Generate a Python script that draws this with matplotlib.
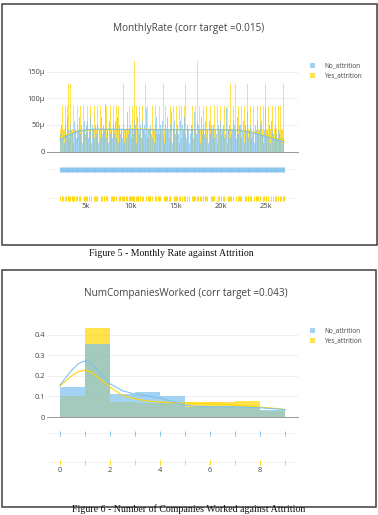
import numpy as np
import matplotlib
matplotlib.use('Agg')
import matplotlib.pyplot as plt
from matplotlib.patches import Rectangle

plt.rcParams['font.family'] = ['Open Sans', 'DejaVu Sans']

W, H = 378, 515
DPI = 72

BLU = '#7EC0EE'
YEL = '#FFD700'
TXT = '#444444'

# ---------------- data: MonthlyRate ----------------
mr_bin_start = 2100
mr_bin_size = 100
mr_no_counts = [
    4, 6, 3, 7, 5, 2, 6, 4, 8, 5,
    3, 6, 5, 9, 4, 2, 7, 5, 3, 6,
    5, 8, 4, 3, 6, 2, 5, 7, 4, 6,
    7, 3, 5, 4, 8, 2, 6, 5, 3, 6,
    4, 6, 2, 7, 5, 3, 8, 4, 6, 5,
    11, 3, 5, 6, 2, 7, 4, 5, 3, 6,
    4, 7, 3, 5, 8, 2, 6, 4, 5, 3,
    6, 2, 5, 7, 3, 9, 4, 5, 6, 3,
    5, 4, 7, 3, 6, 2, 8, 5, 4, 6,
    3, 7, 5, 2, 6, 4, 10, 3, 5, 5,
    6, 4, 3, 7, 5, 2, 6, 8, 4, 5,
    4, 6, 5, 3, 7, 4, 2, 6, 5, 8,
    5, 3, 6, 4, 9, 2, 5, 7, 4, 5,
    6, 4, 2, 5, 7, 3, 6, 5, 8, 4,
    3, 6, 5, 7, 2, 4, 6, 5, 3, 9,
    5, 4, 7, 3, 6, 5, 2, 8, 4, 6,
    4, 7, 3, 6, 5, 2, 7, 4, 6, 5,
    6, 3, 5, 8, 4, 2, 6, 5, 7, 4,
    5, 6, 3, 7, 4, 10, 2, 5, 6, 3,
    4, 5, 7, 2, 6, 5, 3, 8, 4, 6,
    6, 3, 5, 4, 7, 2, 6, 5, 9, 3,
    5, 6, 3, 7, 4, 5, 2, 6, 5, 7,
    4, 5, 6, 3, 7, 4, 2, 5, 10, 4,
    5, 3, 6, 4, 2, 7, 5, 4, 3, 6,
    4, 3, 5, 2, 4, 3, 5, 2, 3,
]
mr_yes_counts = [
    1, 0, 2, 1, 0, 1, 2, 0, 2, 3,
    1, 3, 0, 3, 1, 2, 0, 1, 0, 2,
    0, 1, 2, 0, 0, 0, 2, 1, 0, 1,
    2, 0, 1, 0, 2, 0, 0, 1, 2, 0,
    1, 2, 0, 0, 0, 2, 1, 0, 1, 1,
    0, 2, 1, 0, 0, 0, 2, 1, 0, 2,
    1, 0, 2, 0, 0, 2, 1, 0, 1, 0,
    3, 1, 0, 2, 1, 0, 1, 2, 0, 1,
    2, 1, 4, 0, 1, 2, 1, 0, 2, 1,
    0, 2, 1, 0, 0, 3, 0, 2, 1, 0,
    1, 0, 2, 0, 0, 1, 2, 0, 1, 0,
    2, 1, 0, 0, 0, 3, 1, 2, 0, 1,
    0, 1, 2, 0, 0, 0, 2, 1, 0, 2,
    1, 0, 2, 1, 0, 2, 0, 1, 2, 3,
    0, 1, 0, 2, 0, 0, 1, 2, 0, 1,
    2, 0, 4, 1, 0, 2, 1, 0, 1, 2,
    0, 1, 2, 3, 0, 0, 0, 2, 1, 0,
    1, 2, 0, 0, 0, 2, 1, 0, 2, 1,
    0, 1, 2, 0, 0, 0, 2, 1, 0, 3,
    1, 0, 2, 0, 0, 3, 0, 1, 2, 0,
    1, 2, 0, 0, 0, 2, 1, 0, 3, 1,
    0, 2, 1, 0, 0, 2, 0, 1, 0, 2,
    1, 0, 2, 0, 0, 1, 2, 0, 3, 1,
    0, 2, 0, 0, 1, 0, 2, 0, 1, 2,
    1, 0, 2, 0, 1, 2, 0, 1, 3,
]
mr_kde_x = [2100, 3000, 4000, 5000, 6000, 8000, 10000, 12000, 14000, 16000,
            18000, 20000, 22000, 23000, 24000, 25000, 26000, 27000]
mr_kde_no_micro = [22, 30, 37, 41, 42, 42, 41, 41, 41, 41, 41, 41, 40, 37, 33, 28, 23, 18]
mr_kde_yes_micro = [27, 33, 38, 40, 41, 41, 42, 42, 41, 41, 41, 41, 40, 38, 35, 30, 25, 20]
mr_xticks = [5000, 10000, 15000, 20000, 25000]
mr_xticklabels = ['5k', '10k', '15k', '20k', '25k']
mr_yticks = [0, 50e-6, 100e-6, 150e-6]
mr_yticklabels = ['0', '50μ', '100μ', '150μ']

# ---------------- data: NumCompaniesWorked ----------------
nc_edges = [0, 1, 2, 3, 4, 5, 6, 7, 8, 9]
nc_no = [0.147, 0.356, 0.112, 0.121, 0.103, 0.048, 0.050, 0.050, 0.036]
nc_yes = [0.102, 0.434, 0.075, 0.070, 0.072, 0.073, 0.073, 0.078, 0.030]
nc_kde_x = [0, 0.25, 0.5, 0.75, 1.0, 1.25, 1.5, 2.0, 2.5, 3.0, 3.5, 4.0, 4.5,
            5.0, 5.5, 6.0, 6.5, 7.0, 7.5, 8.0, 8.5, 9.0]
nc_kde_no = [0.156, 0.195, 0.232, 0.262, 0.274, 0.262, 0.228, 0.162, 0.128, 0.112, 0.103,
             0.092, 0.075, 0.058, 0.052, 0.050, 0.050, 0.050, 0.048, 0.045, 0.041, 0.036]
nc_kde_yes = [0.150, 0.178, 0.205, 0.222, 0.228, 0.218, 0.195, 0.146, 0.105, 0.088, 0.078,
              0.073, 0.070, 0.068, 0.066, 0.064, 0.062, 0.058, 0.053, 0.048, 0.043, 0.037]
nc_rug_no = [0, 1, 2, 3, 4, 5, 6, 7, 8, 9]
nc_rug_yes = [0, 1, 2, 3, 4, 5, 6, 7, 8, 9]
nc_xticks = [0, 2, 4, 6, 8]
nc_xticklabels = ['0', '2', '4', '6', '8']
nc_yticks = [0, 0.1, 0.2, 0.3, 0.4]
nc_yticklabels = ['0', '0.1', '0.2', '0.3', '0.4']

titles = ['MonthlyRate (corr target =0.015)', 'NumCompaniesWorked (corr target =0.043)']
captions = ['Figure 5 - Monthly Rate against Attrition',
            'Figure 6 - Number of Companies Worked against Attrition']
legend_labels = ['No_attrition', 'Yes_attrition']

# ---------------- figure ----------------
fig = plt.figure(figsize=(W / DPI, H / DPI), dpi=DPI)
fig.patch.set_facecolor('white')


def axes_px(l, t, r, b):
    return fig.add_axes([l / W, 1 - b / H, (r - l) / W, (b - t) / H])


def rect_px(l, t, r, b, **kw):
    fig.patches.append(Rectangle((l / W, 1 - b / H), (r - l) / W, (b - t) / H,
                                 transform=fig.transFigure, figure=fig, **kw))


def text_px(x, y, s, **kw):
    fig.text(x / W, 1 - y / H, s, **kw)


def panel(hist_box, rug_box, edges, no, yes, kx, kno, kyes, rug_no, rug_yes,
          xlim, ymax, yticks, ylabels, xticks, xlabels, title_xy, legend_y):
    ax = axes_px(*hist_box)
    ax.stairs(yes, edges, fill=True, color=YEL, alpha=0.7, lw=0, zorder=2)
    ax.stairs(no, edges, fill=True, color=BLU, alpha=0.7, lw=0, zorder=3)
    ax.plot(kx, kyes, color=YEL, lw=1.1, zorder=4)
    ax.plot(kx, kno, color=BLU, lw=1.1, zorder=5)
    ax.set_xlim(*xlim)
    ax.set_ylim(0, ymax)
    ax.set_yticks(yticks)
    ax.set_yticklabels(ylabels)
    ax.set_xticks([])
    ax.yaxis.grid(True, color='#ececec', lw=0.8)
    ax.set_axisbelow(True)
    ax.axhline(0, color='#999999', lw=1.0, zorder=1.5, clip_on=False)
    ax.tick_params(axis='y', length=0, pad=2, labelsize=7.5, labelcolor=TXT)
    for s in ax.spines.values():
        s.set_visible(False)
    ax.patch.set_alpha(0)

    ar = axes_px(*rug_box)
    ar.plot(rug_no, [1] * len(rug_no), ls='none', marker='|', ms=5, mew=0.9, color=BLU)
    ar.plot(rug_yes, [0] * len(rug_yes), ls='none', marker='|', ms=5, mew=0.9, color=YEL)
    ar.set_xlim(*xlim)
    ar.set_ylim(-0.103, 1.379)
    ar.set_yticks([0, 1])
    ar.set_yticklabels([])
    ar.yaxis.grid(True, color='#f0f0f0', lw=0.8)
    ar.set_axisbelow(True)
    ar.set_xticks(xticks)
    ar.set_xticklabels(xlabels)
    ar.tick_params(axis='both', length=0, pad=2, labelsize=7.5, labelcolor=TXT)
    for s in ar.spines.values():
        s.set_visible(False)
    ar.patch.set_alpha(0)

    text_px(title_xy[0], title_xy[1], title_xy[2], ha='center', va='center',
            fontsize=10, color=TXT)
    cols = [BLU, YEL]
    for i, lab in enumerate(legend_labels):
        y = legend_y + i * 10
        rect_px(310, y - 2.5, 315, y + 2.5, facecolor=cols[i], alpha=0.7, lw=0)
        text_px(324, y, lab, ha='left', va='center', fontsize=6.5, color=TXT)


# frames
rect_px(2, 4, 377, 245, fill=False, edgecolor='#3a3a3a', lw=1.5)
rect_px(2, 270, 376, 506.5, fill=False, edgecolor='#3a3a3a', lw=1.5)

# top panel: MonthlyRate
mr_edges = [mr_bin_start + mr_bin_size * i for i in range(len(mr_no_counts) + 1)]
mr_no_dens = np.array(mr_no_counts) / (sum(mr_no_counts) * mr_bin_size)
mr_yes_dens = np.array(mr_yes_counts) / (sum(mr_yes_counts) * mr_bin_size)
mr_centers = np.array(mr_edges[:-1]) + mr_bin_size / 2
mr_rug_no = mr_centers[np.array(mr_no_counts) > 0]
mr_rug_yes = mr_centers[np.array(mr_yes_counts) > 0]
panel((47, 58, 298, 151.5), (47, 158, 298, 201),
      mr_edges, mr_no_dens, mr_yes_dens,
      mr_kde_x, np.array(mr_kde_no_micro) * 1e-6, np.array(mr_kde_yes_micro) * 1e-6,
      mr_rug_no, mr_rug_yes,
      (667, 28556), 176e-6, mr_yticks, mr_yticklabels, mr_xticks, mr_xticklabels,
      (189, 28.5, titles[0]), 65.5)

# bottom panel: NumCompaniesWorked
panel((47, 322, 298, 417), (47, 422, 298, 465),
      nc_edges, nc_no, nc_yes, nc_kde_x, nc_kde_no, nc_kde_yes,
      nc_rug_no, nc_rug_yes,
      (-0.52, 9.52), 0.4634, nc_yticks, nc_yticklabels, nc_xticks, nc_xticklabels,
      (186, 293.5, titles[1]), 330.5)

# captions
text_px(171, 253, captions[0], ha='center', va='center', fontsize=9.9,
        family=['Liberation Serif', 'DejaVu Serif'], color='#111111')
text_px(189, 512.5, captions[1], ha='center', va='baseline', fontsize=9.9,
        family=['Liberation Serif', 'DejaVu Serif'], color='#111111')

fig.savefig('out.png', dpi=DPI, facecolor='white')
